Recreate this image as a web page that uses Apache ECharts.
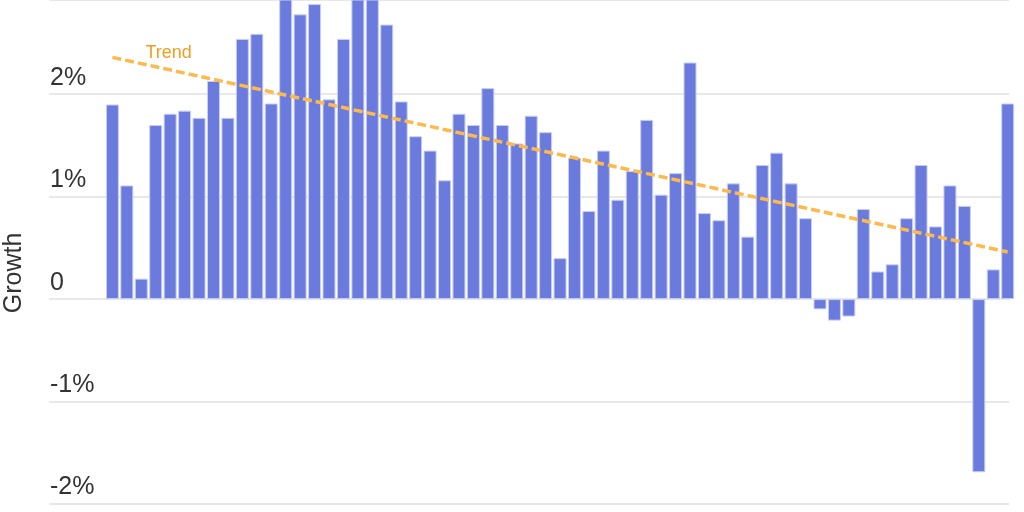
<!DOCTYPE html>
<html>
<head>
<meta charset="utf-8">
<script src="https://cdn.jsdelivr.net/npm/echarts@6/dist/echarts.min.js"></script>
<style>html,body{margin:0;padding:0;background:#fff}#c{width:1024px;height:512px}</style>
</head>
<body>
<div id="c"></div>
<script>
// Growth values (%) per period, left to right
const growth = [1.90, 1.11, 0.20, 1.70, 1.81, 1.84, 1.77, 2.13, 1.77, 2.54,
  2.59, 1.91, 3.10, 2.78, 2.88, 1.95, 2.54, 3.20, 3.05, 2.68,
  1.93, 1.59, 1.45, 1.16, 1.81, 1.70, 2.06, 1.70, 1.52, 1.79,
  1.63, 0.40, 1.38, 0.86, 1.45, 0.97, 1.25, 1.75, 1.02, 1.23,
  2.31, 0.84, 0.77, 1.13, 0.61, 1.31, 1.43, 1.13, 0.79, -0.10,
  -0.21, -0.17, 0.88, 0.27, 0.34, 0.79, 1.31, 0.71, 1.11, 0.91,
  -1.69, 0.29, 1.91];
// Trend line endpoints: [period index, value]
const trendPoints = [[0, 2.36], [62, 0.46]];
const trendLabel = 'Trend';
const yTicks = [-2, -1, 0, 1, 2];
const yName = 'Growth';

const barData = growth.map((v, i) => [i, v]);
const chart = echarts.init(document.getElementById('c'), null, {renderer: 'canvas'});
chart.setOption({
  animation: false,
  grid: {left: 49, right: 15, top: 0, bottom: 8, containLabel: false},
  xAxis: {
    type: 'value', min: -4.39, max: 62.09,
    show: false
  },
  yAxis: {
    type: 'value', min: yTicks[0], max: 2.92, interval: 1,
    axisLine: {show: false}, axisTick: {show: false},
    splitLine: {show: true, lineStyle: {color: '#e8e8e8', width: 2}},
    axisLabel: {
      inside: true, margin: 1, verticalAlign: 'bottom',
      padding: [0, 0, 4, 0],
      fontSize: 25, color: '#333', fontFamily: 'Liberation Sans, Arial, sans-serif',
      formatter: v => (v === 0 ? '0' : v + '%'),
      showMaxLabel: false
    }
  },
  graphic: [{
    type: 'text', x: 14, y: 273, rotation: Math.PI / 2,
    style: {text: yName, fontSize: 25, fill: '#333', fontFamily: 'Liberation Sans, Arial, sans-serif',
      align: 'center', verticalAlign: 'middle'}
  }],
  series: [{
    type: 'bar', data: barData, barWidth: 13, clip: true,
    itemStyle: {color: '#6a7bdd', borderColor: '#c9cff3', borderWidth: 1}
  }, {
    type: 'line', clip: true,
    symbol: 'circle', symbolSize: 0, showSymbol: true,
    data: trendPoints.map((p, i) => i === 0 ? {value: p, label: {
      show: true, formatter: trendLabel, position: 'right', offset: [28, -4],
      color: '#f39c1f', fontSize: 18, fontFamily: 'Liberation Sans, Arial, sans-serif'
    }} : {value: p}),
    lineStyle: {color: '#fdb94c', width: 3.5, type: [9, 4]},
    z: 5
  }]
});
</script>
</body>
</html>
